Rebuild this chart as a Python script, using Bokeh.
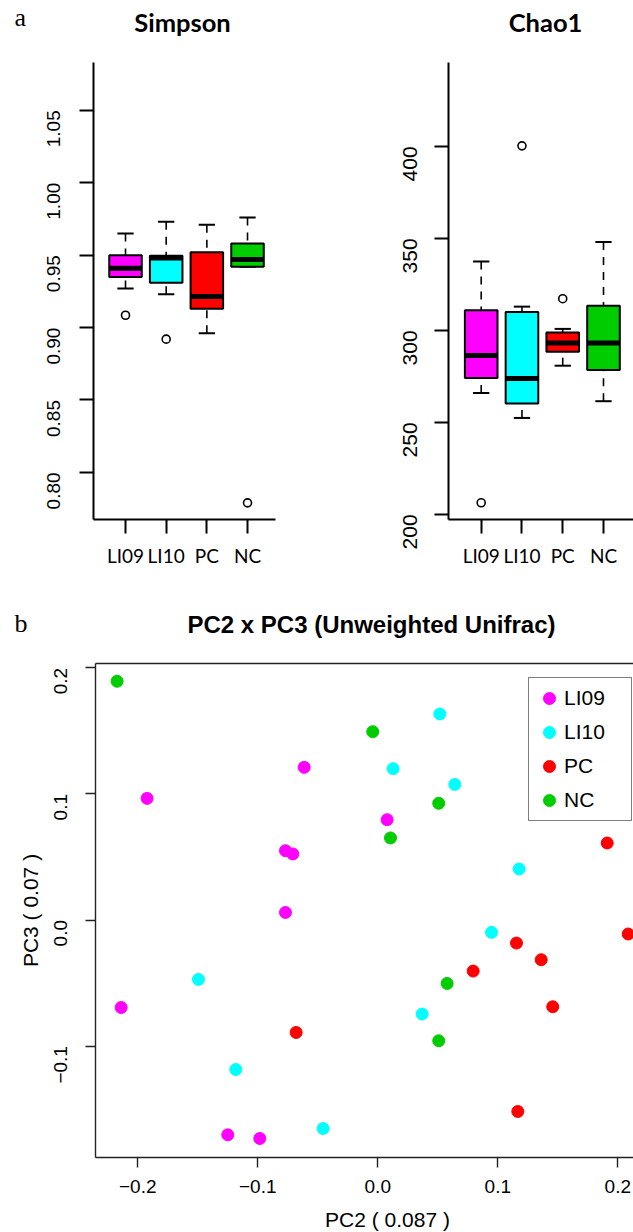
import math
from bokeh.plotting import figure
from bokeh.layouts import column, row
from bokeh.models import Range1d, FixedTicker, Legend, LegendItem, Label, LinearAxis
from bokeh.embed import file_html
from bokeh.resources import INLINE

# ---------------- data ----------------
groups = ["LI09", "LI10", "PC", "NC"]
group_colors = ["#FF00FF", "#00FFFF", "#FF0000", "#00CD00"]

# Simpson box statistics (lower whisker, Q1, median, Q3, upper whisker)
simpson_lower = [0.927, 0.923, 0.896, 0.942]
simpson_q1 = [0.935, 0.931, 0.913, 0.942]
simpson_median = [0.941, 0.948, 0.9215, 0.947]
simpson_q3 = [0.950, 0.9495, 0.952, 0.958]
simpson_upper = [0.965, 0.973, 0.971, 0.976]
simpson_outlier_groups = ["LI09", "LI10", "NC"]
simpson_outlier_values = [0.9085, 0.892, 0.779]
simpson_ticks = [0.80, 0.85, 0.90, 0.95, 1.00, 1.05]
simpson_tick_labels = ["0.80", "0.85", "0.90", "0.95", "1.00", "1.05"]

# Chao1 box statistics
chao1_lower = [266.0, 252.4, 280.8, 261.5]
chao1_q1 = [274.1, 260.2, 288.4, 278.5]
chao1_median = [286.3, 273.8, 293.2, 293.2]
chao1_q3 = [310.9, 310.0, 298.9, 313.4]
chao1_upper = [337.5, 312.9, 300.8, 348.0]
chao1_outlier_groups = ["LI09", "LI10", "PC"]
chao1_outlier_values = [206.3, 400.3, 317.2]
chao1_ticks = [200, 250, 300, 350, 400]
chao1_tick_labels = ["200", "250", "300", "350", "400"]

# PCoA (PC2 x PC3)
li09_pc2 = [-0.1922, -0.0613, -0.0769, -0.0708, -0.0769, 0.0078, -0.2138, -0.1250, -0.0983]
li09_pc3 = [0.0965, 0.1211, 0.0550, 0.0524, 0.0060, 0.0796, -0.0694, -0.1704, -0.1733]
li10_pc2 = [0.0517, 0.0128, 0.0642, 0.1178, 0.0948, 0.0370, -0.0455, -0.1494, -0.1183]
li10_pc3 = [0.1635, 0.1201, 0.1076, 0.0405, -0.0098, -0.0746, -0.1654, -0.0471, -0.1186]
pc_pc2 = [0.1912, 0.2087, 0.1156, 0.1362, 0.0795, 0.1458, 0.1167, -0.0680]
pc_pc3 = [0.0611, -0.0111, -0.0183, -0.0315, -0.0405, -0.0688, -0.1519, -0.0892]
nc_pc2 = [-0.2172, -0.0042, 0.0508, 0.0106, 0.0578, 0.0508]
nc_pc3 = [0.1894, 0.1494, 0.0926, 0.0651, -0.0503, -0.0958]
pcoa_x_ticks = [-0.2, -0.1, 0.0, 0.1, 0.2]
pcoa_x_labels = ["\u22120.2", "\u22120.1", "0.0", "0.1", "0.2"]
pcoa_y_ticks = [-0.1, 0.0, 0.1, 0.2]
pcoa_y_labels = ["\u22120.1", "0.0", "0.1", "0.2"]

SANS = "Liberation Sans"
HUMAN = "Lato"
SERIF = "Liberation Serif"


def canvas_label(text, x, y, font, size, style="normal", align="left"):
    return Label(x=x, y=y, x_units="canvas", y_units="canvas", text=text,
                 text_font=font, text_font_size=size, text_font_style=style,
                 text_align=align, text_baseline="middle", text_color="black")


def box_panel(lower, q1, med, q3, upper, out_groups, out_values,
              ticks, tick_labels, y_range, x_range, width, height, borders,
              ylab_size, ylab_standoff):
    p = figure(width=width, height=height,
               x_range=Range1d(*x_range), y_range=Range1d(*y_range),
               output_backend="svg", toolbar_location=None,
               min_border_left=borders[0], min_border_right=borders[1],
               min_border_top=borders[2], min_border_bottom=borders[3])
    pos = [i + 1 for i in range(len(groups))]
    boxw = 0.8
    capw = 0.2
    # whiskers
    p.segment(x0=pos, y0=upper, x1=pos, y1=q3, line_color="black",
              line_width=1.6, line_dash="8 7")
    p.segment(x0=pos, y0=lower, x1=pos, y1=q1, line_color="black",
              line_width=1.6, line_dash="8 7")
    # staples
    p.segment(x0=[x - capw for x in pos], x1=[x + capw for x in pos],
              y0=upper, y1=upper, line_color="black", line_width=2)
    p.segment(x0=[x - capw for x in pos], x1=[x + capw for x in pos],
              y0=lower, y1=lower, line_color="black", line_width=2)
    # boxes
    p.vbar(x=pos, width=boxw, bottom=q1, top=q3, fill_color=group_colors,
           line_color="black", line_width=2)
    # medians
    p.segment(x0=[x - boxw / 2 for x in pos], x1=[x + boxw / 2 for x in pos],
              y0=med, y1=med, line_color="black", line_width=5, line_cap="butt")
    # outliers
    opos = [groups.index(g) + 1 for g in out_groups]
    p.scatter(x=opos, y=out_values, size=8, marker="circle",
              fill_color="white", line_color="black", line_width=1.6)

    p.xaxis.ticker = FixedTicker(ticks=pos)
    p.xaxis.major_label_overrides = {pos[i]: groups[i] for i in range(len(groups))}
    p.yaxis.ticker = FixedTicker(ticks=ticks)
    p.yaxis.major_label_overrides = dict(zip(ticks, tick_labels))
    for ax in (p.xaxis, p.yaxis):
        ax.axis_line_width = 2
        ax.axis_line_color = "black"
        ax.major_tick_line_width = 2
        ax.major_tick_line_color = "black"
        ax.major_tick_out = 14
        ax.major_tick_in = 0
        ax.minor_tick_line_color = None
        ax.major_label_text_color = "black"
    p.yaxis.major_label_orientation = math.pi / 2
    p.yaxis.major_label_text_font = SANS
    p.yaxis.major_label_text_font_size = ylab_size
    p.yaxis.major_label_standoff = ylab_standoff
    p.xaxis.major_label_text_font = HUMAN
    p.xaxis.major_label_text_font_size = "19px"
    p.xaxis.major_label_standoff = 10
    p.grid.visible = False
    p.outline_line_color = None
    return p


p1 = box_panel(simpson_lower, simpson_q1, simpson_median, simpson_q3,
               simpson_upper, simpson_outlier_groups, simpson_outlier_values,
               simpson_ticks, simpson_tick_labels, (0.7675, 1.083), (0.213, 4.688),
               320, 590, (93, 45, 62, 71), "19px", 26)
p1.add_layout(canvas_label("Simpson", 182, 21.5, HUMAN, "25.5px", "bold", "center"), "above")
p1.add_layout(canvas_label("a", 14, 16.5, SERIF, "26px"), "right")

p2 = box_panel(chao1_lower, chao1_q1, chao1_median, chao1_q3,
               chao1_upper, chao1_outlier_groups, chao1_outlier_values,
               chao1_ticks, chao1_tick_labels, (197.2, 445.6), (0.198, 4.736),
               313, 590, (128, 0, 62, 71), "21px", 24)
p2.add_layout(canvas_label("Chao1", 225, 21.5, HUMAN, "25.5px", "bold", "center"), "above")

# ---------------- PCoA scatter ----------------
p3 = figure(width=633, height=642,
            x_range=Range1d(-0.2352, 0.2131), y_range=Range1d(-0.1884, 0.2035),
            output_backend="svg", toolbar_location=None,
            min_border_left=95, min_border_right=0, min_border_top=73, min_border_bottom=75)
p3.grid.visible = False
p3.outline_line_color = None

series = [("LI09", li09_pc2, li09_pc3), ("LI10", li10_pc2, li10_pc3),
          ("PC", pc_pc2, pc_pc3), ("NC", nc_pc2, nc_pc3)]
items = []
for (name, xs, ys), col in zip(series, group_colors):
    r = p3.scatter(x=xs, y=ys, size=12, marker="circle", fill_color=col, line_color=col)
    items.append(LegendItem(label=name, renderers=[r]))

legend = Legend(items=items, location=(433, 336), padding=5, spacing=4,
                glyph_width=30, glyph_height=30, label_standoff=0,
                label_width=62, label_height=30, margin=0,
                label_text_font=SANS, label_text_font_size="21px",
                label_text_color="black",
                border_line_color="black", border_line_width=1.2,
                background_fill_color="white", background_fill_alpha=1)
p3.add_layout(legend)

p3.xaxis.ticker = FixedTicker(ticks=pcoa_x_ticks)
p3.xaxis.major_label_overrides = dict(zip(pcoa_x_ticks, pcoa_x_labels))
p3.yaxis.ticker = FixedTicker(ticks=pcoa_y_ticks)
p3.yaxis.major_label_overrides = dict(zip(pcoa_y_ticks, pcoa_y_labels))
for ax in (p3.xaxis, p3.yaxis):
    ax.axis_line_width = 1.4
    ax.axis_line_color = "#222222"
    ax.major_tick_line_width = 1.4
    ax.major_tick_line_color = "#222222"
    ax.major_tick_out = 10
    ax.major_tick_in = 0
    ax.minor_tick_line_color = None
    ax.major_label_text_font = SANS
    ax.major_label_text_font_size = "19px"
    ax.major_label_text_color = "black"
p3.yaxis.major_label_orientation = math.pi / 2
p3.yaxis.major_label_standoff = 25
p3.xaxis.major_label_standoff = 12
p3.yaxis.axis_label = "PC3 ( 0.07 )"
p3.yaxis.axis_label_text_font = SANS
p3.yaxis.axis_label_text_font_size = "21px"
p3.yaxis.axis_label_text_font_style = "normal"
p3.yaxis.axis_label_text_color = "black"
p3.yaxis.axis_label_standoff = 3

top_axis = LinearAxis(ticker=FixedTicker(ticks=[]), axis_line_width=1.4,
                      axis_line_color="#222222", major_tick_line_color=None,
                      major_tick_out=0, major_tick_in=0, major_label_standoff=0,
                      minor_tick_line_color=None, major_label_text_font_size="0px")
p3.add_layout(top_axis, "above")
p3.add_layout(canvas_label("PC2 x PC3 (Unweighted Unifrac)", 371, 34, SANS, "24px",
                           "bold", "center"), "above")
p3.add_layout(canvas_label("b", 14, 33, SERIF, "26px"), "above")
p3.add_layout(canvas_label("PC2 ( 0.087 )", 387, 629, SANS, "21px", "normal",
                           "center"), "below")

layout = column(row(p1, p2), p3)
open("out.html", "w").write(file_html(layout, INLINE))
